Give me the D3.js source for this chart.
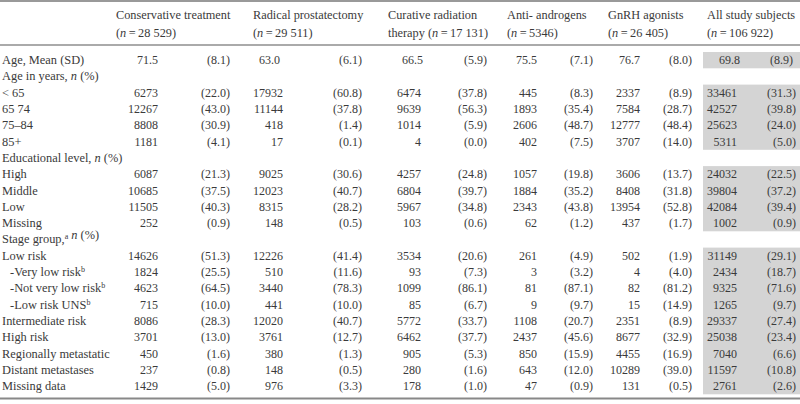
<!DOCTYPE html>
<html><head><meta charset="utf-8">
<script src="https://cdn.jsdelivr.net/npm/d3@7"></script>
<style>body{margin:0;background:#fff} svg{display:block}</style>
</head><body><svg id="c" width="800" height="404"></svg>
<script>
// ---- data ----
const headerLine1 = ["Conservative treatment","Radical prostatectomy","Curative radiation","Anti- androgens","GnRH agonists","All study subjects"];
const headerLine2Prefix = ["","","therapy ","","",""];
const groupSizes = ["28 529","29 511","17 131","5346","26 405","106 922"];

const rowLabels = [
  "Age, Mean (SD)",
  "Age in years, *n* (%)",
  "< 65",
  "65 74",
  "75–84",
  "85+",
  "Educational level, *n* (%)",
  "High",
  "Middle",
  "Low",
  "Missing",
  "Stage group,^a^ *n* (%)",
  "Low risk",
  "-Very low risk^b^",
  "-Not very low risk^b^",
  "-Low risk UNS^b^",
  "Intermediate risk",
  "High risk",
  "Regionally metastatic",
  "Distant metastases",
  "Missing data"
];

const conservativeN   = [71.5, null, 6273, 12267, 8808, 1181, null, 6087, 10685, 11505, 252, null, 14626, 1824, 4623, 715, 8086, 3701, 450, 237, 1429];
const conservativePct = [8.1, null, 22.0, 43.0, 30.9, 4.1, null, 21.3, 37.5, 40.3, 0.9, null, 51.3, 25.5, 64.5, 10.0, 28.3, 13.0, 1.6, 0.8, 5.0];
const radicalN        = [63.0, null, 17932, 11144, 418, 17, null, 9025, 12023, 8315, 148, null, 12226, 510, 3440, 441, 12020, 3761, 380, 148, 976];
const radicalPct      = [6.1, null, 60.8, 37.8, 1.4, 0.1, null, 30.6, 40.7, 28.2, 0.5, null, 41.4, 11.6, 78.3, 10.0, 40.7, 12.7, 1.3, 0.5, 3.3];
const curativeN       = [66.5, null, 6474, 9639, 1014, 4, null, 4257, 6804, 5967, 103, null, 3534, 93, 1099, 85, 5772, 6462, 905, 280, 178];
const curativePct     = [5.9, null, 37.8, 56.3, 5.9, 0.0, null, 24.8, 39.7, 34.8, 0.6, null, 20.6, 7.3, 86.1, 6.7, 33.7, 37.7, 5.3, 1.6, 1.0];
const antiN           = [75.5, null, 445, 1893, 2606, 402, null, 1057, 1884, 2343, 62, null, 261, 3, 81, 9, 1108, 2437, 850, 643, 47];
const antiPct         = [7.1, null, 8.3, 35.4, 48.7, 7.5, null, 19.8, 35.2, 43.8, 1.2, null, 4.9, 3.2, 87.1, 9.7, 20.7, 45.6, 15.9, 12.0, 0.9];
const gnrhN           = [76.7, null, 2337, 7584, 12777, 3707, null, 3606, 8408, 13954, 437, null, 502, 4, 82, 15, 2351, 8677, 4455, 10289, 131];
const gnrhPct         = [8.0, null, 8.9, 28.7, 48.4, 14.0, null, 13.7, 31.8, 52.8, 1.7, null, 1.9, 4.0, 81.2, 14.9, 8.9, 32.9, 16.9, 39.0, 0.5];
const allN            = [69.8, null, 33461, 42527, 25623, 5311, null, 24032, 39804, 42084, 1002, null, 31149, 2434, 9325, 1265, 29337, 25038, 7040, 11597, 2761];
const allPct          = [8.9, null, 31.3, 39.8, 24.0, 5.0, null, 22.5, 37.2, 39.4, 0.9, null, 29.1, 18.7, 71.6, 9.7, 27.4, 23.4, 6.6, 10.8, 2.6];

const columns = [
  {n: conservativeN, pct: conservativePct},
  {n: radicalN, pct: radicalPct},
  {n: curativeN, pct: curativePct},
  {n: antiN, pct: antiPct},
  {n: gnrhN, pct: gnrhPct},
  {n: allN, pct: allPct}
];

// ---- layout ----
const W = 800, H = 404;
const FONT = "'Liberation Serif','Times New Roman',serif";
const textColor = "#3a3a3a";
const headerX = [116, 253, 388, 507, 608, 707];
const nRight  = [158, 283, 421, 537, 640, 737];
const pctRight= [230, 362, 487, 593, 692, 796];
const meanNRight = [158, 280, 423, 537, 640, 740];
const meanPctRight = [230, 362, 487, 593, 692, 793];
const shadeX0 = 703, shadeX1 = 800;

const svg = d3.select("#c").style("font-family", FONT).style("font-size", "12px");

const y = d3.scaleBand().domain(d3.range(rowLabels.length)).range([52, 52 + rowLabels.length * 16.3]).padding(0);
const step = y.bandwidth();
const cy = i => y(i) + step / 2;

// shaded blocks in last column (contiguous runs of rows with values)
const runs = [];
let cur = null;
allN.forEach((v, i) => {
  if (v != null) { if (!cur) { cur = {s: i, e: i}; runs.push(cur); } else cur.e = i; }
  else cur = null;
});
svg.append("g").selectAll("rect").data(runs).join("rect")
  .attr("x", shadeX0).attr("width", shadeX1 - shadeX0)
  .attr("y", d => y(d.s)).attr("height", d => y(d.e) + step - y(d.s))
  .attr("fill", "#d4d4d4");

// rules
svg.append("line").attr("x1", 0).attr("x2", W).attr("y1", 1).attr("y2", 1).attr("stroke", "#777").attr("stroke-width", 1.6);
svg.append("line").attr("x1", 0).attr("x2", W).attr("y1", 45).attr("y2", 45).attr("stroke", "#aaa").attr("stroke-width", 2);
svg.append("line").attr("x1", 0).attr("x2", W).attr("y1", 398.5).attr("y2", 398.5).attr("stroke", "#888").attr("stroke-width", 1.8);

// rich text helper: *italic*, ^sup^
function rich(sel, str) {
  const parts = str.split(/(\*[^*]+\*|\^[^^]+\^)/).filter(s => s.length);
  parts.forEach(p => {
    if (p.startsWith("*")) sel.append("tspan").attr("font-style", "italic").text(p.slice(1, -1));
    else if (p.startsWith("^")) {
      sel.append("tspan").attr("font-size", "8px").attr("dy", -4).text(p.slice(1, -1));
      sel.append("tspan").attr("dy", 4).text("");
    }
    else sel.append("tspan").text(p);
  });
}

// headers
const hg = svg.append("g").attr("fill", textColor).style("font-size", "12.3px");
headerLine1.forEach((h, j) => {
  hg.append("text").attr("x", headerX[j]).attr("y", 19).text(h);
  const t = hg.append("text").attr("x", headerX[j]).attr("y", 37);
  rich(t, headerLine2Prefix[j] + "(*n*\u2009=\u2009" + groupSizes[j] + ")");
});

// row labels
const lg = svg.append("g").attr("fill", textColor).style("font-size", "12.4px");
rowLabels.forEach((lab, i) => {
  const indent = lab.startsWith("-") ? 10 : 2;
  const t = lg.append("text").attr("x", indent).attr("y", cy(i) + 4);
  rich(t, lab);
});

// values
const f1 = d3.format(".1f"), fi = d3.format("d");
const vg = svg.append("g").attr("fill", textColor).attr("text-anchor", "end");
columns.forEach((col, j) => {
  vg.append("g").selectAll("text").data(col.n.map((v, i) => ({v, i})).filter(d => d.v != null)).join("text")
    .attr("x", d => d.i === 0 ? meanNRight[j] : nRight[j]).attr("y", d => cy(d.i) + 4)
    .text(d => d.i === 0 ? f1(d.v) : fi(d.v));
  vg.append("g").selectAll("text").data(col.pct.map((v, i) => ({v, i})).filter(d => d.v != null)).join("text")
    .attr("x", d => d.i === 0 ? meanPctRight[j] : pctRight[j]).attr("y", d => cy(d.i) + 4)
    .text(d => "(" + f1(d.v) + ")");
});
</script>
</body></html>
